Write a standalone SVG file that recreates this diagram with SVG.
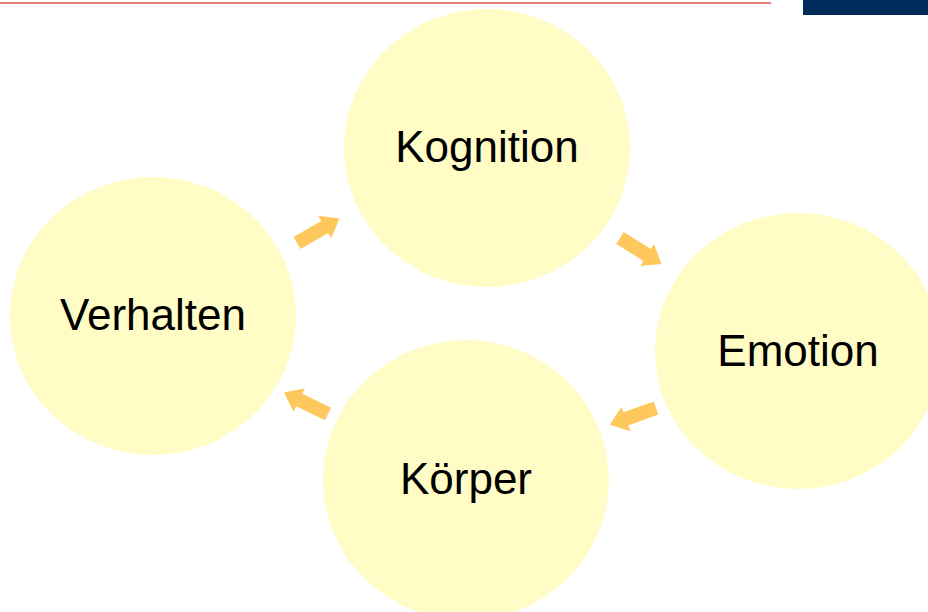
<svg xmlns="http://www.w3.org/2000/svg" width="928" height="612" viewBox="0 0 928 612">
<defs>
<style>
.c{fill:#FFFCC6}
.t{font-family:"Liberation Sans",Arial,sans-serif;font-size:44px;fill:#000;text-anchor:middle}
.a{fill:#FFC85C}
</style>
<path id="arr" d="M0,-7 H32 V-13 L49,0 L32,13 V7 H0 Z"/>
</defs>
<rect x="0" y="0" width="928" height="612" fill="#fff"/>
<line x1="0" y1="3" x2="771" y2="3" stroke="#D9534F" stroke-width="1.5"/>
<rect x="803" y="0" width="125" height="15" fill="#002B5A"/>
<g id="kognition"><ellipse class="c" cx="487" cy="148" rx="143" ry="139"/><text class="t" x="487" y="162">Kognition</text></g>
<g id="verhalten"><ellipse class="c" cx="153" cy="316" rx="143" ry="139"/><text class="t" x="153" y="330">Verhalten</text></g>
<g id="emotion"><ellipse class="c" cx="798" cy="351" rx="143" ry="138"/><text class="t" x="798" y="366">Emotion</text></g>
<g id="koerper"><ellipse class="c" cx="466" cy="480" rx="143" ry="140"/><text class="t" x="466" y="494">Körper</text></g>
<g id="connectors">
<use href="#arr" class="a" transform="translate(297,243) rotate(-30)"/>
<use href="#arr" class="a" transform="translate(620,238) rotate(32)"/>
<use href="#arr" class="a" transform="translate(656,408) rotate(160)"/>
<use href="#arr" class="a" transform="translate(328,414) rotate(206)"/>
</g>
</svg>
